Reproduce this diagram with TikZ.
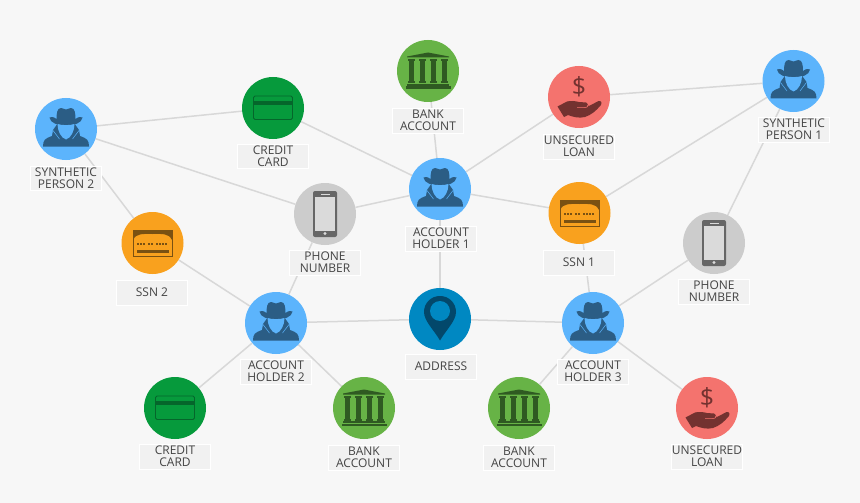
\documentclass[tikz,border=0pt]{standalone}
\usepackage{fontspec}
\setmainfont{Open Sans}
\usetikzlibrary{backgrounds}
\definecolor{pagebg}{HTML}{F7F7F7}
\definecolor{edgec}{HTML}{D8D8D8}
\definecolor{labelbg}{HTML}{F1F1F1}
\definecolor{txt}{HTML}{444444}
\definecolor{spyc}{HTML}{5CB4FC}\definecolor{spyd}{HTML}{2B5D85}
\definecolor{cardc}{HTML}{069A3C}\definecolor{cardd}{HTML}{05662B}
\definecolor{bankc}{HTML}{67B346}\definecolor{bankd}{HTML}{2F5A22}
\definecolor{loanc}{HTML}{F4736E}\definecolor{loand}{HTML}{733230}
\definecolor{ssnc}{HTML}{F9A11E}\definecolor{ssnd}{HTML}{7A5112}
\definecolor{phonec}{HTML}{CCCCCC}\definecolor{phoned}{HTML}{666666}\definecolor{phonel}{HTML}{DADADA}
\definecolor{addrc}{HTML}{0088C2}\definecolor{addrd}{HTML}{03486B}
\tikzset{
 x=1pt,y=-1pt,
 disc/.style={circle,minimum size=62pt,inner sep=0pt,fill=#1},
 lab/.style={rectangle,fill=labelbg,draw=white,line width=.5pt,minimum width=71pt,minimum height=24.5pt,inner sep=0pt,
   align=center,font=\fontsize{12}{11.6}\selectfont,text=txt},
 edge/.style={draw=edgec,line width=1.5pt},
 pics/spy/.style={code={
   \fill[spyd] (-23,17.5) .. controls (-23,11) and (-21,9.5) .. (-14,7) -- (-13,1) -- (-8,-6) -- (8,-6) -- (13,1) -- (14,7)
     .. controls (21,9.5) and (23,11) .. (23,17.5) -- cycle;
   \fill[spyd] (-16.5,-11.5) .. controls (-13,-12.5) and (-11,-11.5) .. (-9.5,-10) .. controls (-9.5,-15) and (-9,-21) .. (-5,-21)
     .. controls (-3,-21) and (-1.5,-19.5) .. (0,-19.5) .. controls (1.5,-19.5) and (3,-21) .. (5,-21)
     .. controls (9,-21) and (9.5,-15) .. (9.5,-10) .. controls (11,-11.5) and (13,-12.5) .. (16.5,-11.5)
     .. controls (16,-6) and (8,-3.5) .. (0,-3.5) .. controls (-8,-3.5) and (-16,-6) .. (-16.5,-11.5) -- cycle;
   \fill[spyc] (-8.5,-5) .. controls (-4,-3.5) and (4,-3.5) .. (8.5,-5) .. controls (8.5,2) and (5,9) .. (0,10.5) .. controls (-5,9) and (-8.5,2) .. (-8.5,-5) -- cycle;
   \draw[spyc,line width=.5pt] (-13,1.5) -- (-6.5,10);
   \draw[spyc,line width=.5pt] (13,1.5) -- (6.5,10);
 }},
 pics/card/.style={code={
   \draw[cardd,line width=.9pt,rounded corners=1.5pt] (-19.5,-12) rectangle (19.5,11.5);
   \fill[cardd] (-19.5,-7) rectangle (19.5,-3);
 }},
 pics/bank/.style={code={
   \fill[bankd] (-21,-14.5) -- (0,-18.5) -- (21,-14.5) -- (21,-13.5) -- (-21,-13.5) -- cycle;
   \foreach \cx in {-16.5,-5.5,5.5,16.5}{
     \fill[bankd] (\cx-2.8,-11) rectangle (\cx+2.8,12);
     \fill[bankd] (\cx-3.8,-12) rectangle (\cx+3.8,-10);
     \fill[bankd] (\cx-3.8,10.5) rectangle (\cx+3.8,12.5);
   }
   \fill[bankd] (-21,13) rectangle (21,15);
   \fill[bankd] (-22.5,15.5) rectangle (22.5,18);
 }},
 pics/ssn/.style={code={
   \draw[ssnd,line width=.9pt] (-19.5,-13) rectangle (19.5,13);
   \fill[ssnd] (-19.5,-13) -- (19.5,-13) -- (19.5,-3) .. controls (16,-10) and (10,-9) .. (0,-9) .. controls (-10,-9) and (-16,-10) .. (-19.5,-3) -- cycle;
   \foreach \cx in {-15,-12,-9,-4,-1,4,7,10,13}{\fill[ssnd] (\cx-1,0) rectangle (\cx+1,2);}
   \fill[ssnd] (-16,7) rectangle (16,10);
 }},
 pics/loan/.style={code={
   \node[inner sep=0pt,text=loand,font=\fontsize{25}{25}\selectfont] (#1) at (0,-10.5) {\$};
   \fill[loand] (-21.5,9.5) -- (-12,4.5) .. controls (-8,3.5) and (-4,4) .. (0,5) -- (7,5.5) .. controls (9.5,6) and (9.5,8.5) .. (7.5,9)
     -- (11,8.5) -- (19.5,4) .. controls (22.5,3.5) and (23.5,6) .. (21.5,8.5) .. controls (17,14) and (12,18) .. (6,20)
     .. controls (0,21.5) and (-6,20) .. (-11,18) -- (-15,20) -- cycle;
   \draw[loanc,line width=.5pt] (-2,10.5) -- (6,10.5) .. controls (7.5,10.5) and (8.5,10) .. (9,9);
 }},
 pics/phone/.style={code={
   \fill[phoned,rounded corners=2pt] (-12,-23) rectangle (12,23);
   \fill[phonel] (-10,-17) rectangle (10,16.5);
   \fill[phonel] (-4.5,-20.5) rectangle (4.5,-19);
   \fill[phonel] (0,19.5) circle (1.7pt);
 }},
 pics/pin/.style={code={
   \fill[addrd] (0,21.5) .. controls (-6,11) and (-16,2) .. (-16,-7) .. controls (-16,-16) and (-9,-23) .. (0,-23)
     .. controls (9,-23) and (16,-16) .. (16,-7) .. controls (16,2) and (6,11) .. (0,21.5) -- cycle;
   \fill[addrc] (0,-8) circle (10pt);
 }},
}
\begin{document}
\begin{tikzpicture}
\useasboundingbox (0,0) rectangle (860,503);
% discs
\node[disc=spyc] (synthB) at (66,129) {};
\node[disc=cardc] (creditA) at (273,108) {};
\node[disc=bankc] (bankA) at (428,71) {};
\node[disc=loanc] (loanA) at (579,97) {};
\node[disc=spyc] (synthA) at (793.5,81) {};
\node[disc=spyc] (holderA) at (440,189) {};
\node[disc=phonec] (phoneA) at (325,214) {};
\node[disc=ssnc] (ssnA) at (579.5,213) {};
\node[disc=ssnc] (ssnB) at (152.5,243) {};
\node[disc=phonec] (phoneB) at (714,243) {};
\node[disc=spyc] (holderB) at (276,323) {};
\node[disc=addrc] (addr) at (440,319) {};
\node[disc=spyc] (holderC) at (593,323) {};
\node[disc=cardc] (creditB) at (175,408) {};
\node[disc=bankc] (bankB) at (364,408) {};
\node[disc=bankc] (bankC) at (519,408) {};
\node[disc=loanc] (loanB) at (707,408) {};
% icons
\pic at (synthB) {spy}; \pic at (synthA) {spy}; \pic at (holderA) {spy}; \pic at (holderB) {spy}; \pic at (holderC) {spy};
\pic at (creditA) {card}; \pic at (creditB) {card};
\pic at (bankA) {bank}; \pic at (bankB) {bank}; \pic at (bankC) {bank};
\pic at (ssnA) {ssn}; \pic at (ssnB) {ssn};
\pic at (phoneA) {phone}; \pic at (phoneB) {phone};
\pic at (addr) {pin};
\pic at (loanA) {loan=dollarA}; \pic at (loanB) {loan=dollarB};
% labels
\node[lab] (lsynthB) at (66,178) {SYNTHETIC\\PERSON 2};
\node[lab] (lcreditA) at (273,156) {CREDIT\\CARD};
\node[lab] (lbankA) at (428,120.5) {BANK\\ACCOUNT};
\node[lab] (lloanA) at (579,146.5) {UNSECURED\\LOAN};
\node[lab] (lsynthA) at (794,129.5) {SYNTHETIC\\PERSON 1};
\node[lab] (lholderA) at (441,238.5) {ACCOUNT\\HOLDER 1};
\node[lab] (lphoneA) at (325,262.5) {PHONE\\NUMBER};
\node[lab] (lssnA) at (579,262.5) {SSN 1};
\node[lab] (lssnB) at (152,292.5) {SSN 2};
\node[lab] (lphoneB) at (714,291.5) {PHONE\\NUMBER};
\node[lab] (lholderB) at (276,371.5) {ACCOUNT\\HOLDER 2};
\node[lab] (laddr) at (441,366.5) {ADDRESS};
\node[lab] (lholderC) at (593,371.5) {ACCOUNT\\HOLDER 3};
\node[lab] (lcreditB) at (175,456.5) {CREDIT\\CARD};
\node[lab] (lbankB) at (364,457.5) {BANK\\ACCOUNT};
\node[lab] (lbankC) at (519,457.5) {BANK\\ACCOUNT};
\node[lab] (lloanB) at (707,456.5) {UNSECURED\\LOAN};
\begin{scope}[on background layer]
\fill[pagebg] (0,0) rectangle (860,503);
\foreach \a/\b in {synthB/creditA,synthB/phoneA,synthB/ssnB,ssnB/holderB,creditA/holderA,bankA/holderA,phoneA/holderA,
  holderA/loanA,holderA/ssnA,holderA/addr,loanA/synthA,ssnA/synthA,synthA/phoneB,phoneA/holderB,holderB/addr,addr/holderC,
  ssnA/holderC,phoneB/holderC,holderB/creditB,holderB/bankB,holderC/bankC,holderC/loanB}
  \draw[edge] (\a) -- (\b);
\end{scope}
\end{tikzpicture}
\end{document}
